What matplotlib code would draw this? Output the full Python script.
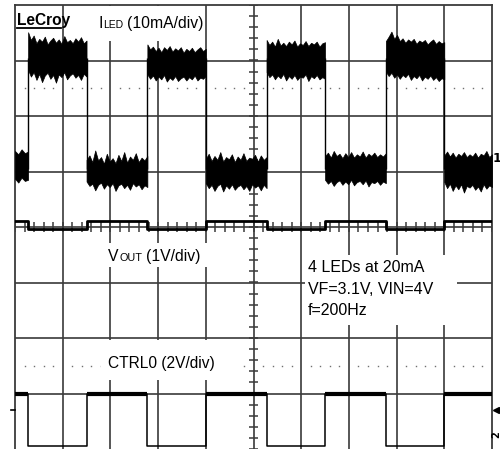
import numpy as np
import matplotlib
matplotlib.use("Agg")
import matplotlib.pyplot as plt
from matplotlib.patches import Rectangle
from matplotlib.lines import Line2D

# --- time base: 2 ms/div, 10 divisions ---
t_end = 20.0
ms_per_div = 2.0

# --- LED current, 10 mA/div ---
led_on = [0.55, 5.55, 10.55, 15.55]
led_off = [3.0, 8.0, 13.0, 18.0]
iled_high = 20.0
iled_low = 0.0
ma_per_div = 10.0
iled_offset = 1.05  # div

# noise envelope of the current, segment by segment (mA)
# order: low, high, low, high, low, high, low, high, low
seg_top = [
    [3.2, 2.6, 3.5, 2.8, 3.1],
    [24.6, 23.2, 24.0, 22.6, 23.4, 22.9, 23.8, 22.4, 23.1, 23.6, 22.7,
     23.3, 22.5, 23.9, 22.8, 23.2, 22.6, 23.5, 22.9, 23.7, 22.6, 23.1],
    [1.6, 2.4, 1.2, 3.3, 1.5, 2.1, 0.9, 2.7, 1.3, 1.9, 1.0,
     2.5, 1.4, 3.0, 1.1, 2.2, 1.6, 2.8, 1.2, 2.0, 1.5, 2.3],
    [22.4, 21.5, 22.0, 21.2, 21.8, 21.0, 21.9, 21.4, 22.1, 21.1, 21.7,
     21.3, 21.9, 20.9, 21.6, 21.2, 21.8, 21.0, 21.5, 21.9, 21.2, 21.6],
    [1.8, 2.7, 1.4, 2.3, 1.6, 3.0, 1.3, 2.1, 1.7, 2.6, 1.2,
     2.2, 1.6, 2.8, 1.4, 2.0, 1.8, 2.5, 1.3, 2.4, 1.6, 2.1],
    [23.2, 22.3, 22.9, 22.0, 23.4, 22.2, 22.7, 22.1, 22.9, 22.4, 23.1,
     22.0, 22.6, 22.3, 23.0, 22.1, 22.7, 22.4, 22.9, 22.0, 22.6, 22.8],
    [2.3, 2.9, 2.0, 3.2, 2.3, 2.7, 1.9, 2.8, 2.1, 3.0, 2.0,
     2.6, 2.2, 3.1, 2.0, 2.7, 2.3, 2.9, 2.1, 2.6, 2.2, 2.8],
    [23.0, 23.8, 24.7, 23.4, 24.1, 23.0, 23.5, 22.7, 23.3, 22.9, 23.4,
     22.5, 23.1, 22.8, 23.2, 22.4, 22.9, 23.3, 22.5, 23.0, 22.6, 22.8],
    [2.4, 3.1, 2.2, 2.9, 2.0, 2.7, 2.3, 3.0, 2.1,
     2.6, 2.2, 2.9, 2.0, 2.7, 2.4, 3.2, 2.1, 2.6],
]
seg_bot = [
    [-1.8, -2.5, -1.6, -2.2, -2.0],
    [17.8, 16.6, 17.4, 16.0, 17.1, 15.6, 16.8, 17.3, 16.2, 16.9, 15.5,
     17.0, 16.5, 17.4, 16.1, 16.8, 17.2, 16.4, 16.9, 16.0, 17.1, 16.6],
    [-2.3, -3.1, -2.7, -3.9, -2.9, -2.5, -3.6, -2.8, -3.3, -2.6, -4.0,
     -3.0, -2.7, -3.5, -2.9, -3.8, -2.6, -3.2, -2.8, -3.7, -3.0, -3.3],
    [17.0, 16.2, 16.8, 15.9, 16.6, 16.1, 16.9, 15.7, 16.4, 16.0, 16.7,
     15.8, 16.3, 16.6, 15.9, 16.5, 16.1, 16.8, 15.9, 16.4, 16.2, 16.7],
    [-2.6, -3.5, -2.9, -4.0, -3.1, -2.7, -4.1, -3.0, -3.6, -2.8, -3.8,
     -3.2, -2.9, -3.7, -3.1, -4.0, -2.8, -3.4, -3.0, -3.9, -2.9, -3.5],
    [17.4, 16.5, 17.0, 16.1, 16.8, 16.3, 17.1, 15.9, 16.7, 16.2, 16.9,
     16.0, 16.6, 16.4, 17.0, 15.8, 16.7, 16.3, 16.9, 16.1, 16.5, 16.2],
    [-2.0, -2.7, -2.2, -3.1, -2.4, -2.1, -2.9, -2.3, -2.8, -2.0, -3.0,
     -2.4, -2.2, -2.8, -2.1, -3.2, -2.4, -2.6, -2.2, -2.9, -2.3, -2.6],
    [17.5, 16.7, 17.3, 16.4, 17.0, 16.2, 16.9, 16.5, 17.1, 16.0, 16.7,
     16.3, 16.9, 15.9, 16.6, 16.2, 16.8, 16.0, 16.5, 15.8, 16.3, 16.1],
    [-2.4, -3.5, -2.7, -4.0, -3.0, -3.7, -2.8, -4.3, -3.1,
     -3.4, -2.9, -3.8, -3.2, -4.1, -2.8, -3.6, -3.0, -3.3],
]

# --- output voltage, 1 V/div ---
vout_led_on = 12.36
vout_led_off = 12.50
vout_offset = 12.40
v_per_div = 1.0

# --- CTRL0, 2 V/div ---
ctrl_high = 1.9
ctrl_low = 0.0
ctrl_v_per_div = 2.0
ctrl_offset = -3.95  # div

W, H = 500, 449
fig = plt.figure(figsize=(W / 100, H / 100), dpi=100)
ax = fig.add_axes([15 / W, 0, (492 - 15) / W, (449 - 5) / H])
ax.set_xlim(0, t_end)
ax.set_ylim(-4, 4)
ax.set_xticks([])
ax.set_yticks([])
for side in ["left", "right", "top"]:
    ax.spines[side].set_color("#3a3a3a")
    ax.spines[side].set_linewidth(1.3)
ax.spines["bottom"].set_visible(False)


def fx(x):
    return x / W


def fy(y):
    return 1 - y / H


def i_div(ma):
    return np.asarray(ma) / ma_per_div + iled_offset


# grid
grid_c = "#3a3a3a"
for k in range(1, 10):
    ax.axvline(k * ms_per_div, color=grid_c, lw=1.2, zorder=1)
for k in range(-3, 4):
    ax.axhline(k, color=grid_c, lw=1.2, zorder=1)

# fine ticks on the centre lines
yt = np.arange(-4, 4.001, 0.2)
ax.hlines(yt, 10 - 0.19, 10 + 0.19, color=grid_c, lw=1.1, zorder=1)
xt = np.arange(0, t_end + 0.001, 0.4)
ax.vlines(xt, -0.085, 0.085, color=grid_c, lw=1.1, zorder=1)

# dotted rows
xd = np.array([k * 0.4 for k in range(50) if k % 5 != 0])
for yrow in (2.5, -2.5):
    ax.plot(xd, np.full(len(xd), yrow), ls="none", marker="s", ms=1.0,
            mew=0, color="#707070", zorder=1)

# white label boxes
def box(x0, y0, x1, y1):
    ax.add_patch(Rectangle((fx(x0), fy(y1)), fx(x1) - fx(x0), fy(y0) - fy(y1),
                           transform=fig.transFigure, fc="white", ec="none",
                           zorder=2, clip_on=False))

box(16, 6, 61, 30)
box(95, 6, 204, 41)
box(104, 243, 213, 267)
box(305, 255, 457, 325)
box(101, 340, 242, 380)

# LED current trace
bounds = [0.0]
for a, b in zip(led_on, led_off):
    bounds += [a, b]
bounds.append(t_end)
for i in range(len(bounds) - 1):
    t = np.linspace(bounds[i], bounds[i + 1], len(seg_top[i]))
    ax.fill_between(t, i_div(seg_bot[i]), i_div(seg_top[i]), color="black",
                    lw=0.5, zorder=3)
ax.vlines(led_on + led_off, i_div(iled_low), i_div(iled_high), color="black",
          lw=1.0, zorder=3)

# Vout trace
n_seg = len(bounds) - 1
vout = [vout_led_off if i % 2 == 0 else vout_led_on for i in range(n_seg)]
vout_div = (np.array(vout + [vout[-1]]) - vout_offset) / v_per_div
ax.step(bounds, vout_div, where="post", color="black", lw=2.0, zorder=3)

# CTRL0 trace
ctrl = [ctrl_high if i % 2 == 0 else ctrl_low for i in range(n_seg)]
ctrl_div = np.array(ctrl + [ctrl[-1]]) / ctrl_v_per_div + ctrl_offset
ax.step(bounds, ctrl_div, where="post", color="black", lw=1.1, zorder=3)
for i in range(0, n_seg, 2):
    ax.hlines(ctrl_high / ctrl_v_per_div + ctrl_offset, bounds[i], bounds[i + 1],
              color="black", lw=3.0, zorder=3)

# texts
fam = ["Liberation Sans", "DejaVu Sans"]


def label(x, y, s, size, family=fam, **kw):
    fig.text(fx(x), fy(y), s, fontsize=size, va="baseline", ha="left",
             family=family, zorder=6, **kw)


label(17, 24.5, "LeCroy", 11.2, family=["Liberation Sans Narrow", "Liberation Sans"],
      fontweight="bold")
fig.add_artist(Line2D([fx(17), fx(61)], [fy(27.5), fy(27.5)], color="black", lw=1.3))

label(99, 28, "I", 11.3)
label(103.5, 28, "LED", 7.5)
label(127, 28, "(10mA/div)", 11.3)

label(108, 261, "V", 11.3)
label(119.5, 261, "OUT", 7.8)
label(146, 261, "(1V/div)", 11.3)

label(308, 272, "4 LEDs at 20mA", 11.5)
label(308, 293.5, "VF=3.1V, VIN=4V", 11.5)
label(308, 315, "f=200Hz", 11.5)

label(108, 368, "CTRL0 (2V/div)", 11.2)

# channel markers at the screen edges
fig.text(fx(492.5), fy(162), "1", fontsize=9, fontweight="bold",
         family="DejaVu Sans", va="baseline", ha="left")
fig.text(fx(496), fy(435), "2", fontsize=7, fontweight="bold", rotation=90,
         family="DejaVu Sans", va="center", ha="center")
fig.add_artist(Line2D([fx(496)], [fy(410)], marker="<", ms=4.5, color="black", lw=0))
fig.add_artist(Line2D([fx(496), fx(500)], [fy(410), fy(410)], color="black", lw=1.2))
fig.add_artist(Line2D([fx(11), fx(15)], [fy(410), fy(410)], color="black", lw=1.2))

fig.savefig("out.png", dpi=100)
